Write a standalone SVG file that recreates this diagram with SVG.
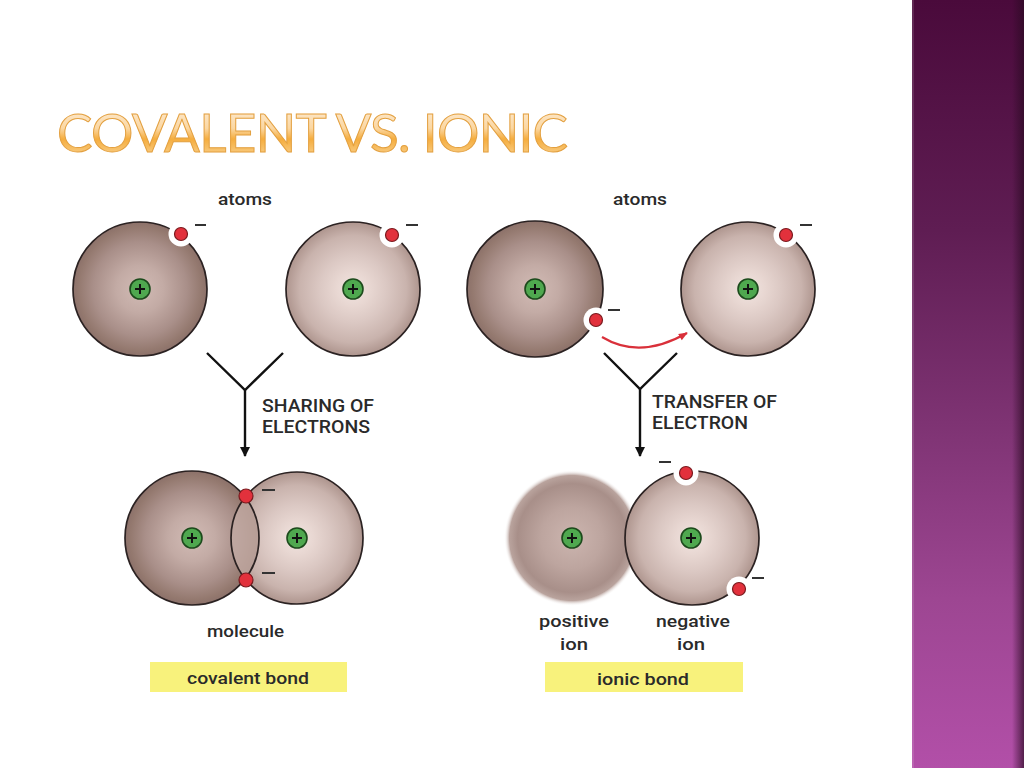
<svg xmlns="http://www.w3.org/2000/svg" width="1024" height="768" viewBox="0 0 1024 768">
<defs>
<style>
.lbl{font-family:Roboto,"Liberation Sans",Arial,sans-serif;font-weight:500;fill:#2a2a2a;font-size:17px}
.cap{font-family:Roboto,"Liberation Sans",Arial,sans-serif;font-weight:500;fill:#2a2a2a;font-size:18px}
.outline{stroke:#2b2222;stroke-width:1.7}
.arm{fill:none;stroke:#111;stroke-width:2.4}
.minus{stroke:#333;stroke-width:2}
</style>
<radialGradient id="gDark" cx="0.5" cy="0.5" r="0.5">
<stop offset="0" stop-color="#d2bbb5"/>
<stop offset="0.35" stop-color="#c3aba5"/>
<stop offset="0.7" stop-color="#a98f89"/>
<stop offset="0.92" stop-color="#94796f"/>
<stop offset="1" stop-color="#8c716a"/>
</radialGradient>
<radialGradient id="gLight" cx="0.5" cy="0.5" r="0.5">
<stop offset="0" stop-color="#f1e4e0"/>
<stop offset="0.25" stop-color="#e8d7d2"/>
<stop offset="0.5" stop-color="#dbc8c3"/>
<stop offset="0.8" stop-color="#c9b3ad"/>
<stop offset="1" stop-color="#ae958e"/>
</radialGradient>
<radialGradient id="gIon" cx="0.5" cy="0.5" r="0.5">
<stop offset="0" stop-color="#ccb5af"/>
<stop offset="0.45" stop-color="#bda59f"/>
<stop offset="0.8" stop-color="#a88f89"/>
<stop offset="0.92" stop-color="#b9a39d"/>
<stop offset="1" stop-color="#ffffff" stop-opacity="0"/>
</radialGradient>
<linearGradient id="gTitle" x1="0" y1="0" x2="0" y2="1">
<stop offset="0" stop-color="#fdf1e2"/>
<stop offset="0.45" stop-color="#fbd7a2"/>
<stop offset="0.62" stop-color="#f5ad3e"/>
<stop offset="0.82" stop-color="#f8c675"/>
<stop offset="1" stop-color="#fde7c8"/>
</linearGradient>
<linearGradient id="gPanel" x1="0" y1="0" x2="0" y2="1">
<stop offset="0" stop-color="#4a0a3b"/>
<stop offset="0.3" stop-color="#5f1d53"/>
<stop offset="0.55" stop-color="#7e3373"/>
<stop offset="0.78" stop-color="#9d4692"/>
<stop offset="1" stop-color="#b24fa8"/>
</linearGradient>
<linearGradient id="gShade" x1="0" y1="0" x2="1" y2="0">
<stop offset="0" stop-color="#2a0a22" stop-opacity="0"/>
<stop offset="1" stop-color="#2a0a22" stop-opacity="0.7"/>
</linearGradient>
<g id="nuc">
<circle r="10" fill="#4fa84f" stroke="#1c4a1c" stroke-width="1.6"/>
<path d="M-5,0H5M0,-5V5" stroke="#111" stroke-width="2"/>
</g>
<g id="elec">
<circle r="12.5" fill="#ffffff"/>
<circle r="6.5" fill="#e2313c" stroke="#7a1a1e" stroke-width="1.2"/>
</g>
<g id="elecs">
<circle r="7" fill="#e2313c" stroke="#7a1a1e" stroke-width="1.2"/>
</g>
<marker id="ah" viewBox="0 0 10 10" refX="9" refY="5" markerWidth="10" markerHeight="10" markerUnits="userSpaceOnUse" orient="auto">
<path d="M0,0L10,5L0,10z" fill="#111"/>
</marker>
<marker id="ahr" viewBox="0 0 10 10" refX="9" refY="5" markerWidth="10" markerHeight="9" markerUnits="userSpaceOnUse" orient="auto">
<path d="M0,1L10,5L0,9z" fill="#d9303a"/>
</marker>
<clipPath id="clipL"><circle cx="192" cy="538" r="67"/></clipPath>
</defs>

<rect width="1024" height="768" fill="#ffffff"/>

<g id="panel">
<rect x="912" y="0" width="112" height="768" fill="url(#gPanel)"/>
<rect x="912" y="0" width="2" height="768" fill="#ffffff" opacity="0.12"/>
<rect x="1012" y="0" width="12" height="768" fill="url(#gShade)"/>
</g>

<g id="title">
<text x="57" y="152" font-family="Lato,'Open Sans','Liberation Sans',sans-serif" font-size="53" fill="url(#gTitle)" stroke="#e3a040" stroke-width="1" textLength="511" lengthAdjust="spacing">COVALENT VS. IONIC</text>
</g>

<!-- Covalent side -->
<g id="label-atoms-left"><text class="lbl" x="218" y="205" textLength="54" lengthAdjust="spacingAndGlyphs">atoms</text></g>

<g id="atom-cov-1">
<circle cx="140" cy="289" r="67" fill="url(#gDark)" class="outline"/>
<use href="#nuc" x="140" y="289"/>
<use href="#elec" x="181" y="234"/>
<line class="minus" x1="195" y1="225" x2="206" y2="225"/>
</g>

<g id="atom-cov-2">
<circle cx="353" cy="289" r="67" fill="url(#gLight)" class="outline"/>
<use href="#nuc" x="353" y="289"/>
<use href="#elec" x="392" y="235"/>
<line class="minus" x1="406" y1="225" x2="418" y2="225"/>
</g>

<g id="molecule">
<circle cx="297" cy="538" r="66" fill="url(#gLight)"/>
<circle cx="192" cy="538" r="67" fill="url(#gDark)"/>
<circle cx="297" cy="538" r="66" fill="#c4aca6" opacity="0.75" clip-path="url(#clipL)"/>
<circle cx="192" cy="538" r="67" fill="none" class="outline"/>
<circle cx="297" cy="538" r="66" fill="none" class="outline"/>
<use href="#nuc" x="192" y="538"/>
<use href="#nuc" x="297" y="538"/>
<use href="#elecs" x="246" y="496"/>
<use href="#elecs" x="246" y="580"/>
<line class="minus" x1="262" y1="490" x2="275" y2="490"/>
<line class="minus" x1="262" y1="573" x2="275" y2="573"/>
</g>
<g id="label-molecule"><text class="lbl" x="207" y="637" textLength="77" lengthAdjust="spacingAndGlyphs">molecule</text></g>
<g id="box-covalent">
<rect x="150" y="662" width="197" height="30" fill="#f8f27c"/>
<text class="lbl" x="187" y="684" textLength="122" lengthAdjust="spacingAndGlyphs">covalent bond</text>
</g>

<!-- Ionic side -->
<g id="label-atoms-right"><text class="lbl" x="613" y="205" textLength="54" lengthAdjust="spacingAndGlyphs">atoms</text></g>

<g id="atom-ion-1">
<circle cx="535" cy="289" r="68" fill="url(#gDark)" class="outline"/>
<use href="#nuc" x="535" y="289"/>
<use href="#elec" x="596" y="320"/>
<line class="minus" x1="608" y1="310" x2="620" y2="310"/>
</g>

<g id="atom-ion-2">
<circle cx="748" cy="289" r="67" fill="url(#gLight)" class="outline"/>
<use href="#nuc" x="748" y="289"/>
<use href="#elec" x="786" y="235"/>
<line class="minus" x1="800" y1="225" x2="812" y2="225"/>
</g>

<g id="positive-ion">
<circle cx="572" cy="538" r="68" fill="url(#gIon)"/>
<use href="#nuc" x="572" y="538"/>
</g>
<g id="negative-ion">
<circle cx="692" cy="538" r="67" fill="url(#gLight)" class="outline"/>
<use href="#nuc" x="691" y="538"/>
<use href="#elec" x="686" y="473"/>
<line class="minus" x1="659" y1="462" x2="671" y2="462"/>
<use href="#elec" x="739" y="589"/>
<line class="minus" x1="752" y1="578" x2="764" y2="578"/>
</g>
<g id="label-ions">
<text class="lbl" x="539" y="627" textLength="70" lengthAdjust="spacingAndGlyphs">positive</text>
<text class="lbl" x="560" y="650" textLength="28" lengthAdjust="spacingAndGlyphs">ion</text>
<text class="lbl" x="656" y="627" textLength="74" lengthAdjust="spacingAndGlyphs">negative</text>
<text class="lbl" x="677" y="650" textLength="28" lengthAdjust="spacingAndGlyphs">ion</text>
</g>
<g id="box-ionic">
<rect x="545" y="662" width="198" height="30" fill="#f8f27c"/>
<text class="lbl" x="597" y="685" textLength="92" lengthAdjust="spacingAndGlyphs">ionic bond</text>
</g>

<g id="connectors">
<path class="arm" d="M207,353L245,390L283,353"/>
<line class="arm" x1="245" y1="390" x2="245" y2="456" marker-end="url(#ah)"/>
<text class="cap" x="262" y="412" textLength="112" lengthAdjust="spacingAndGlyphs">SHARING OF</text>
<text class="cap" x="262" y="433" textLength="108" lengthAdjust="spacingAndGlyphs">ELECTRONS</text>

<path class="arm" d="M604,353L640,389L677,353"/>
<line class="arm" x1="640" y1="389" x2="640" y2="456" marker-end="url(#ah)"/>
<text class="cap" x="652" y="408" textLength="125" lengthAdjust="spacingAndGlyphs">TRANSFER OF</text>
<text class="cap" x="652" y="429" textLength="96" lengthAdjust="spacingAndGlyphs">ELECTRON</text>

<path d="M602,337Q640,360 687,333" fill="none" stroke="#d9303a" stroke-width="2.2" marker-end="url(#ahr)"/>
</g>
</svg>
